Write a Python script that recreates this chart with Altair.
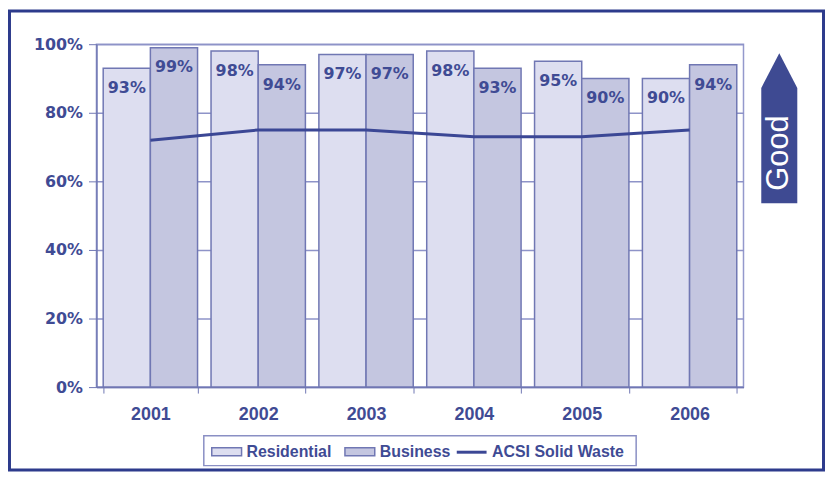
import altair as alt
import pandas as pd

years = ["2001", "2002", "2003", "2004", "2005", "2006"]
residential = [93, 98, 97, 98, 95, 90]
business = [99, 94, 97, 93, 90, 94]
acsi = [72, 75, 75, 73, 73, 75]
bar_series = ["Residential", "Business"]
line_series = ["ACSI Solid Waste"]
y_ticks = [0, 20, 40, 60, 80, 100]

RES_FILL = "#dddef0"
BUS_FILL = "#c4c6e0"
BAR_STROKE = "#7077b3"
LINE_COL = "#3b4795"
TEXT_COL = "#3f4b94"
FRAME_COL = "#2d3b8c"
GRID_COL = "#8e93c8"

bars = pd.DataFrame(
    [{"year": y, "series": "Residential", "value": v} for y, v in zip(years, residential)]
    + [{"year": y, "series": "Business", "value": v} for y, v in zip(years, business)]
)
bars["label"] = bars["value"].astype(str) + "%"
line = pd.DataFrame({"year": years, "value": acsi, "series": line_series[0]})
one = pd.DataFrame({"a": [0]})

x_enc = alt.X(
    "year:N",
    sort=years,
    scale=alt.Scale(paddingInner=0.125, paddingOuter=0.0625),
    axis=alt.Axis(
        title=None, labelAngle=0, tickBand="extent", tickSize=6, tickColor=BAR_STROKE,
        domainColor=BAR_STROKE, domainWidth=1.5, labelPadding=13,
        labelFont="Liberation Sans", labelFontSize=18, labelFontWeight="bold",
        labelColor=TEXT_COL,
    ),
)
y_enc = alt.Y(
    "value:Q",
    scale=alt.Scale(domain=[0, 100], nice=False),
    axis=alt.Axis(
        title=None, values=y_ticks, labelExpr="datum.value + '%'", tickSize=8,
        tickColor=BAR_STROKE, domainColor=BAR_STROKE, domainWidth=1.5,
        grid=True, gridColor=GRID_COL, gridWidth=1.5, labelPadding=6,
        labelFont="DejaVu Sans", labelFontSize=16, labelFontWeight="bold",
        labelColor=TEXT_COL,
    ),
)

common_legend = dict(
    title=None, orient="none", legendY=394, direction="horizontal", padding=0,
    columnPadding=10, labelFont="Liberation Sans", labelFontSize=16,
    labelFontWeight="bold", labelColor=TEXT_COL, labelOffset=4, symbolSize=900,
    symbolOpacity=1,
)

bar_layer = alt.Chart(bars).mark_bar(stroke=BAR_STROKE, strokeWidth=1.5, opacity=1).encode(
    x=x_enc,
    xOffset=alt.XOffset("series:N", sort=bar_series, scale=alt.Scale(paddingInner=0, paddingOuter=0)),
    y=y_enc,
    fill=alt.Fill(
        "series:N",
        scale=alt.Scale(domain=bar_series, range=[RES_FILL, BUS_FILL]),
        legend=alt.Legend(
            legendX=115, symbolType="M-1,-0.27H1V0.27H-1Z",
            symbolStrokeColor=BAR_STROKE, symbolStrokeWidth=1.5, **common_legend
        ),
    ),
)

text_layer = alt.Chart(bars).mark_text(
    baseline="middle", align="center", dy=20, font="DejaVu Sans", fontSize=16,
    fontWeight="bold", color=TEXT_COL,
).encode(
    x=alt.X("year:N", sort=years),
    xOffset=alt.XOffset("series:N", sort=bar_series),
    y=alt.Y("value:Q"),
    text="label:N",
)

line_layer = alt.Chart(line).mark_line(strokeWidth=3).encode(
    x=alt.X("year:N", sort=years),
    y=alt.Y("value:Q"),
    stroke=alt.Stroke(
        "series:N",
        scale=alt.Scale(domain=line_series, range=[LINE_COL]),
        legend=alt.Legend(
            legendX=361, symbolType="stroke", symbolStrokeWidth=3, **common_legend
        ),
    ),
)

legend_box = alt.Chart(one).mark_rect(
    fill="white", stroke="#8a8fc4", strokeWidth=1.5
).encode(x=alt.value(108), x2=alt.value(543), y=alt.value(394), y2=alt.value(424))

frame = alt.Chart(one).mark_rect(
    fill="transparent", stroke=FRAME_COL, strokeWidth=3
).encode(
    x=alt.value(-87.5), x2=alt.value(731.5), y=alt.value(-33.5), y2=alt.value(428.5)
)

arrow = alt.Chart(one).mark_point(
    shape="M0,-1L0.24,-0.536L0.24,1L-0.24,1L-0.24,-0.536Z",
    size=22801, filled=True, color="#3e4a92", opacity=1, strokeWidth=0,
).encode(x=alt.value(687), y=alt.value(84.5))

good = alt.Chart(one).mark_text(
    text="Good", angle=270, font="Liberation Sans", fontSize=31, color="white",
    align="center", baseline="middle",
).encode(x=alt.value(687), y=alt.value(109.5))

chart = alt.layer(legend_box, bar_layer, line_layer, text_layer, frame, arrow, good).properties(
    width=651, height=345, autosize="none",
    padding={"left": 89, "top": 35, "right": 82, "bottom": 85},
    background="white",
).resolve_scale(fill="independent", stroke="independent").configure_view(
    stroke="#9499cc", strokeWidth=1.5
)

chart.save("out.html", embed_options={"renderer": "svg", "actions": False})
